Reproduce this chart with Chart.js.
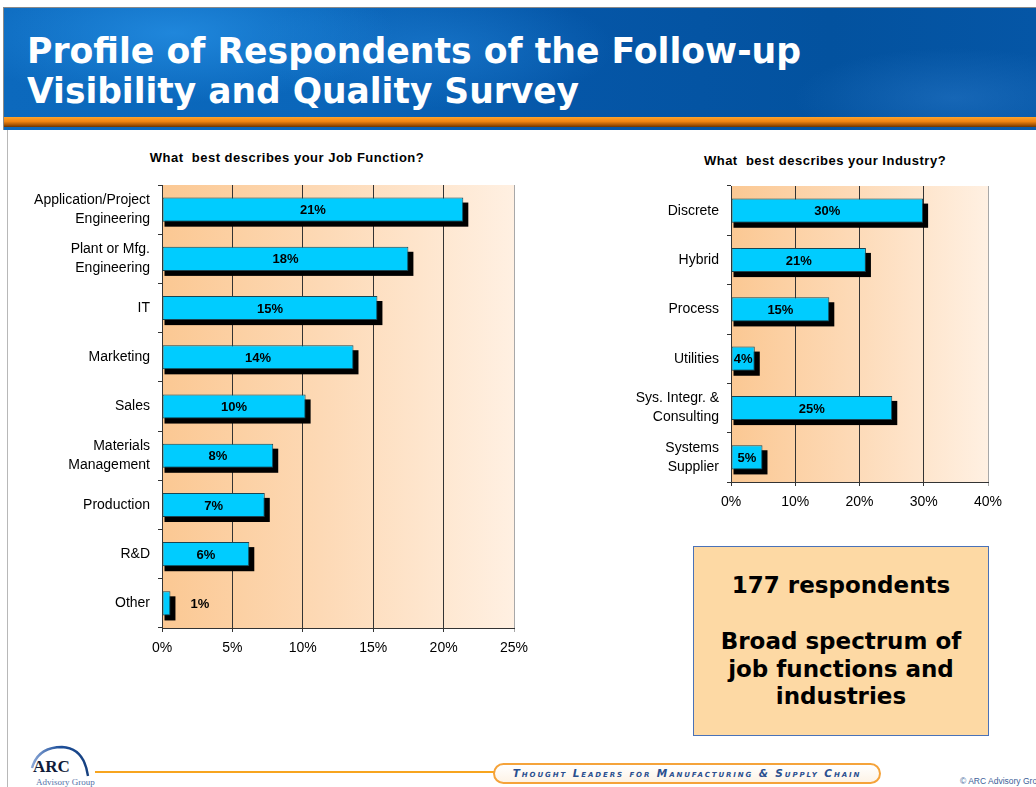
<!DOCTYPE html>
<html><head><meta charset="utf-8">
<script src="https://cdn.jsdelivr.net/npm/chart.js@4.4.1/dist/chart.umd.min.js"></script>
<style>
html,body{margin:0;padding:0;background:#fff;}
body{width:1036px;height:787px;position:relative;overflow:hidden;font-family:"Liberation Sans",Arial,sans-serif;}
#header{position:absolute;left:3px;top:7px;width:1033px;height:123px;box-sizing:border-box;border-top:1px solid #8a8a8a;border-left:1px solid #8a8a8a;
 background:
  radial-gradient(ellipse 220px 70px at 170px 25px, rgba(35,140,225,0.85), rgba(35,140,225,0)),
  radial-gradient(ellipse 180px 60px at 430px 40px, rgba(30,125,210,0.6), rgba(30,125,210,0)),
  radial-gradient(ellipse 160px 50px at 950px 90px, rgba(40,120,200,0.5), rgba(40,120,200,0)),
  linear-gradient(90deg,#0c69bd 0%,#0a66ba 30%,#0556a7 55%,#03529f 80%,#0556a6 100%);}
#stripe{position:absolute;left:0;top:109px;width:100%;height:10px;background:linear-gradient(180deg,#ffa32a 0%,#f08412 45%,#b05a05 75%,#6e3500 100%);}
#title{position:absolute;left:27px;top:31px;color:#fff;font-family:"DejaVu Sans",Verdana,sans-serif;font-weight:bold;font-size:35px;line-height:40px;white-space:nowrap;}
#title div{transform-origin:0 0;display:block;width:max-content;}
#vline{position:absolute;left:7px;top:130px;width:1px;height:657px;background:#b8b8b8;}
.ctitle{position:absolute;font-weight:bold;font-size:13px;letter-spacing:0.5px;white-space:pre;color:#000;transform:translateX(-50%);}
#c1wrap{position:absolute;left:0;top:140px;width:540px;height:520px;}
#c2wrap{position:absolute;left:560px;top:140px;width:476px;height:380px;}
#box{position:absolute;left:693px;top:546px;width:296px;height:190px;box-sizing:border-box;border:1.5px solid #4a72b8;background:#fdd9a4;
 font-family:"DejaVu Sans",Verdana,sans-serif;font-weight:bold;font-size:23px;line-height:27.5px;text-align:center;color:#000;}
#box .l1{position:absolute;left:0;right:0;top:25px;}
#box .l2{position:absolute;left:0;right:0;top:81px;}
#logo{position:absolute;left:26px;top:742px;width:80px;height:45px;}
#logo svg{position:absolute;left:0;top:0;}
#logo .t1{position:absolute;left:7px;top:15px;font-family:"Liberation Serif","DejaVu Serif",serif;font-weight:bold;font-size:17px;color:#101c3a;}
#logo .t2{position:absolute;left:10px;top:35px;font-family:"Liberation Serif",serif;font-size:9px;color:#5572a8;white-space:nowrap;}
#oline{position:absolute;left:95px;top:771px;width:402px;height:2px;background:#f7a51f;}
#pill{position:absolute;left:493px;top:763px;width:388px;height:21px;box-sizing:border-box;border:2px solid #f5a33a;border-radius:11px;background:linear-gradient(180deg,#fff 0%,#fdf3e6 100%);
 font-family:"DejaVu Sans",sans-serif;font-style:italic;font-weight:bold;font-variant:small-caps;font-size:10.5px;letter-spacing:1.9px;color:#2a4f8f;text-align:center;line-height:17px;white-space:nowrap;}
#copy{position:absolute;left:960px;top:776px;font-size:8.5px;color:#3d5f99;white-space:nowrap;}
</style></head>
<body>
<div id="header"><div id="stripe"></div></div>
<div id="title"><div id="t1">Profile of Respondents of the Follow-up</div><div id="t2">Visibility and Quality Survey</div></div>
<div id="vline"></div>
<div class="ctitle" id="ct1" style="left:287px;top:150px;">What  best describes your Job Function?</div>
<div class="ctitle" id="ct2" style="left:825px;top:153px;">What  best describes your Industry?</div>
<div id="c1wrap"><canvas id="c1" width="540" height="520"></canvas></div>
<div id="c2wrap"><canvas id="c2" width="476" height="380"></canvas></div>
<div id="box"><div class="l1">177 respondents</div><div class="l2">Broad spectrum of<br>job functions and<br>industries</div></div>
<div id="logo">
 <svg width="80" height="45" viewBox="0 0 80 45"><defs><linearGradient id="ag" x1="0" x2="1" y1="0" y2="0"><stop offset="0" stop-color="#8aa6d6"/><stop offset="0.5" stop-color="#1d4f9a"/><stop offset="1" stop-color="#16407f"/></linearGradient></defs>
 <path d="M6 26 Q12 5 36 5 Q58 6 62 34" fill="none" stroke="url(#ag)" stroke-width="2.4"/></svg>
 <div class="t1">ARC</div><div class="t2">Advisory Group</div></div>
<div id="oline"></div>
<div id="pill">Thought Leaders for Manufacturing &amp; Supply Chain</div>
<div id="copy">© ARC Advisory Group</div>
<script>
// ---- data ----
const jobCategories = [["Application/Project","Engineering"],["Plant or Mfg.","Engineering"],"IT","Marketing","Sales",["Materials","Management"],"Production","R&D","Other"];
const jobValues = [21.4, 17.5, 15.3, 13.6, 10.2, 7.9, 7.3, 6.2, 0.6];
const jobAxisMax = 25;
const jobAxisStep = 5;

const industryCategories = ["Discrete","Hybrid","Process","Utilities",["Sys. Integr. &","Consulting"],["Systems","Supplier"]];
const industryValues = [29.9, 21.0, 15.3, 3.7, 25.1, 4.9];
const industryAxisMax = 40;
const industryAxisStep = 10;

// ---- fit title width ----
(function(){
  const targets = {t1:774, t2:552};
  for (const id in targets){ const el=document.getElementById(id); const w=el.getBoundingClientRect().width; el.style.transform='scaleX('+(targets[id]/w)+')'; }
})();

const FONT = '"Liberation Sans", Arial, sans-serif';
const plotBg = {
  id:'plotBg',
  beforeDraw(chart){
    const {ctx, chartArea:a} = chart;
    const g = ctx.createLinearGradient(a.left,0,a.right,0);
    g.addColorStop(0,'#fbc893'); g.addColorStop(0.45,'#fdd9b5'); g.addColorStop(1,'#fff0e2');
    ctx.save(); ctx.fillStyle=g; ctx.fillRect(a.left,a.top,a.right-a.left,a.bottom-a.top); ctx.restore();
  }
};
const barShadow = {
  id:'barShadow',
  beforeDatasetsDraw(chart){
    const ctx = chart.ctx; ctx.save(); ctx.fillStyle='#000';
    chart.getDatasetMeta(0).data.forEach(b=>{
      const l = Math.min(b.base,b.x), r = Math.max(b.base,b.x);
      ctx.fillRect(l+2, b.y-b.height/2+5, r-l+3, b.height);
    });
    ctx.restore();
  }
};
const barLabels = {
  id:'barLabels',
  afterDatasetsDraw(chart){
    const ctx = chart.ctx; const data = chart.data.datasets[0].data;
    ctx.save(); ctx.font='bold 13px '+FONT; ctx.fillStyle='#000'; ctx.textBaseline='middle';
    chart.getDatasetMeta(0).data.forEach((b,i)=>{
      const txt = Math.round(data[i])+'%';
      const w = ctx.measureText(txt).width; const bw = Math.abs(b.x-b.base);
      if (w+3 < bw){ ctx.textAlign='center'; ctx.fillText(txt,(b.x+b.base)/2,b.y+1); }
      else { ctx.textAlign='left'; ctx.fillText(txt,b.x+20,b.y+1); }
    });
    ctx.restore();
  }
};

function makeChart(id, cats, vals, max, step, yWidth, pad){
  return new Chart(document.getElementById(id), {
    type:'bar',
    data:{ labels:cats, datasets:[{ data:vals, backgroundColor:'#00ccff', borderColor:'#1a4552', borderWidth:1, borderSkipped:false, barPercentage:0.98, categoryPercentage:0.5 }] },
    options:{
      indexAxis:'y', responsive:false, animation:false, maintainAspectRatio:false,
      layout:{ padding:pad },
      plugins:{ legend:{display:false}, tooltip:{enabled:false} },
      scales:{
        x:{ type:'linear', min:0, max:max,
            ticks:{ stepSize:step, callback:v=>v+'%', color:'#000', font:{family:FONT, size:14}, padding:8, maxRotation:0 },
            grid:{ color:c=> (c.tick && c.tick.value===max) ? '#a8a8a8' : '#333333', lineWidth:1, tickLength:4 },
            border:{ color:'#333333' },
            afterFit(s){ s.height = 26; } },
        y:{ ticks:{ color:'#000', font:{family:FONT, size:14, lineHeight:1.35}, padding:8 },
            grid:{ drawOnChartArea:false, tickLength:4, color:'#333333' },
            border:{ color:'#333333' },
            afterFit(s){ s.width = yWidth; } }
      }
    },
    plugins:[plotBg, barShadow, barLabels]
  });
}
makeChart('c1', jobCategories, jobValues, jobAxisMax, jobAxisStep, 162, {top:45,right:26,bottom:6,left:0});
makeChart('c2', industryCategories, industryValues, industryAxisMax, industryAxisStep, 171, {top:46,right:48,bottom:12,left:0});
</script>
</body></html>
